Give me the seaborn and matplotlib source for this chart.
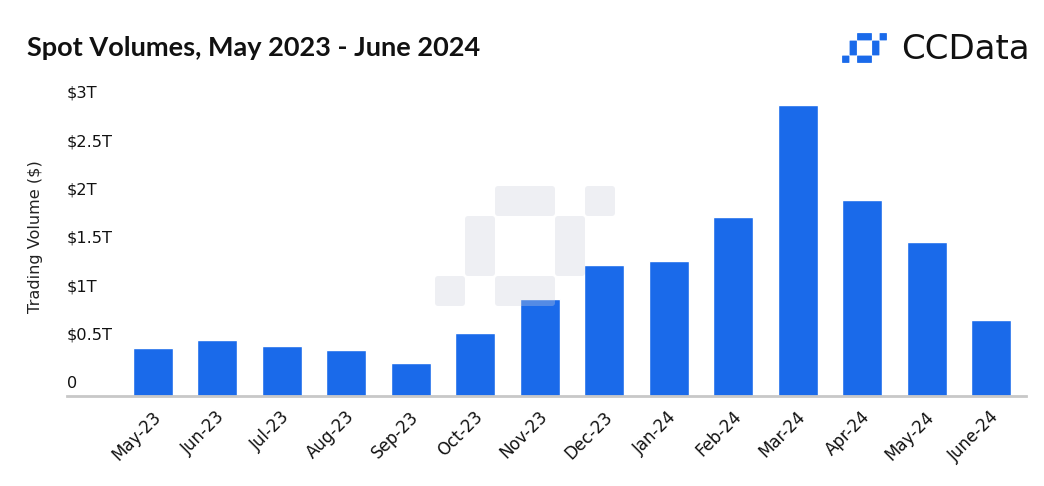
import matplotlib
matplotlib.use("Agg")
import matplotlib.pyplot as plt
import seaborn as sns
import pandas as pd
from matplotlib.patches import FancyBboxPatch
from matplotlib.transforms import ScaledTranslation

# ---- data ----
months = ["May-23", "Jun-23", "Jul-23", "Aug-23", "Sep-23", "Oct-23", "Nov-23",
          "Dec-23", "Jan-24", "Feb-24", "Mar-24", "Apr-24", "May-24", "June-24"]
volumes_t = [0.50, 0.58, 0.52, 0.48, 0.34, 0.65, 1.00,
             1.35, 1.40, 1.85, 3.01, 2.03, 1.59, 0.79]
ytick_vals = [0, 0.5, 1.0, 1.5, 2.0, 2.5, 3.0]
ytick_labels = ["0", "$0.5T", "$1T", "$1.5T", "$2T", "$2.5T", "$3T"]
title = "Spot Volumes, May 2023 - June 2024"
ylabel = "Trading Volume ($)"
brand = "CCData"

BLUE = "#1A6AEA"
W, H = 1044, 486

sns.set_style("white")
plt.rcParams["font.family"] = ["DejaVu Sans"]

df = pd.DataFrame({"month": months, "volume": volumes_t})

fig = plt.figure(figsize=(W / 100, H / 100), dpi=100)
ax = fig.add_axes([67 / W, (H - 396) / H, (1026 - 67) / W, (396 - 96.2) / H])

sns.barplot(data=df, x="month", y="volume", color=BLUE, saturation=1,
            width=0.62, ax=ax, zorder=2)

ax.set_xlim(-1.334, 13.54)
ax.set_ylim(0, 3.1)
ax.set_xlabel("")

for s in ["top", "right", "left"]:
    ax.spines[s].set_visible(False)
ax.spines["bottom"].set_color("#C8C8C8")
ax.spines["bottom"].set_linewidth(2)
ax.spines["bottom"].set_zorder(3)

# y ticks drawn inside, above their value line
ax.set_yticks(ytick_vals)
ax.set_yticklabels(ytick_labels)
ax.tick_params(axis="y", length=0, pad=0, labelsize=11.6, labelcolor="#111111")
for lbl in ax.get_yticklabels():
    lbl.set_ha("left")
    lbl.set_va("baseline")
    lbl.set_transform(lbl.get_transform() + ScaledTranslation(0, 8 / 100, fig.dpi_scale_trans))

# x ticks
ax.set_xticks(range(len(months)))
ax.set_xticklabels(months, rotation=45, ha="right", va="center", rotation_mode="anchor")
ax.tick_params(axis="x", length=0, pad=13, labelsize=12, labelcolor="#111111")
for lbl in ax.get_xticklabels():
    lbl.set_transform(lbl.get_transform() + ScaledTranslation(5 / 100, 0, fig.dpi_scale_trans))

ax.set_ylabel(ylabel, fontsize=11.6, color="#222222")
ax.yaxis.set_label_coords((43 - 67) / (1026 - 67), (396 - 237) / (396 - 96.2))

# title + brand
fig.text(27 / W, (H - 56) / H, title, fontsize=19.5, fontweight="bold",
         family=["Lato", "DejaVu Sans"], color="#111111", ha="left", va="baseline")
fig.text(1030 / W, (H - 59) / H, brand, fontsize=24.5,
         color="#111111", ha="right", va="baseline")


def draw_mark(x0, y0, u, color, alpha, rad, gap):
    pieces = [(0, 3, 1, 4), (1, 1, 2, 3), (2, 0, 4, 1), (4, 1, 5, 3), (2, 3, 4, 4), (5, 0, 6, 1)]
    for (a, b, c, d) in pieces:
        xl = x0 + a * u + gap
        xr = x0 + c * u - gap
        yt = y0 + b * u + gap
        yb = y0 + d * u - gap
        p = FancyBboxPatch(((xl) / 100, (H - yb) / 100), (xr - xl) / 100, (yb - yt) / 100,
                           boxstyle=f"round,pad=0,rounding_size={rad / 100}",
                           transform=fig.dpi_scale_trans, facecolor=color,
                           edgecolor="none", alpha=alpha, zorder=5)
        fig.add_artist(p)


# watermark (drawn over the bars, translucent)
draw_mark(435, 186, 30, "#CDD1DC", 0.33, 3, 0)
# brand icon
draw_mark(842, 33, 7.5, BLUE, 1.0, 0.5, 0.1)

fig.savefig("out.png", dpi=100)
